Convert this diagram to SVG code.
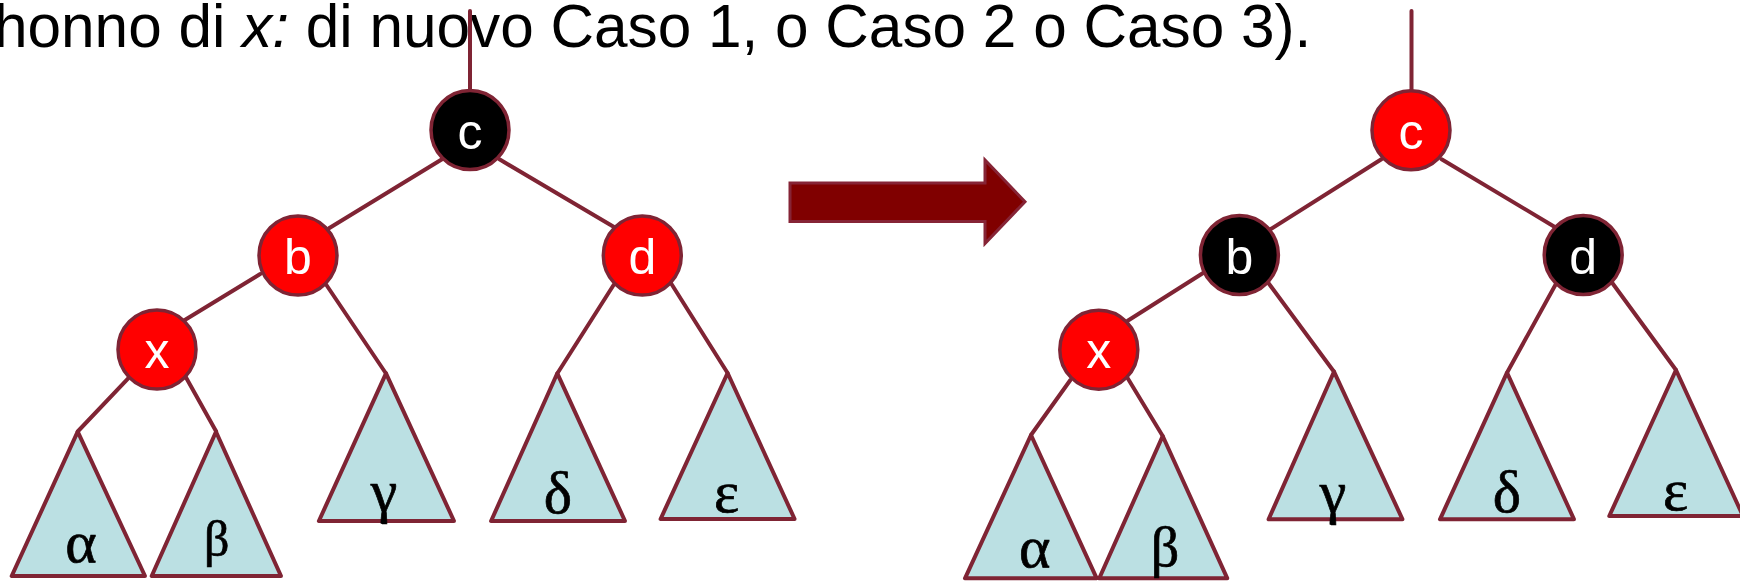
<svg xmlns="http://www.w3.org/2000/svg" width="1740" height="581" viewBox="0 0 1740 581">
<style>
.ln{stroke:#7F2434;stroke-width:4;fill:none;stroke-linecap:round}
.tri{fill:#BBE0E3;stroke:#7F2434;stroke-width:4;stroke-linejoin:round}
.nd{stroke:#7F2434;stroke-width:3.5}
.red{fill:#FF0000}
.blk{fill:#000000}
.nl{font-family:"Liberation Sans",Arial,sans-serif;font-size:50px;fill:#FFFFFF;text-anchor:middle}
.gl{font-family:"Liberation Serif","Times New Roman",serif;font-size:60px;fill:#000000;stroke:#000000;stroke-width:0.7;text-anchor:middle}
.title{font-family:"Liberation Sans",Arial,sans-serif;font-size:60.3px;fill:#000000}
</style>
<rect width="1740" height="581" fill="#FFFFFF"/>
<text class="title" x="-6" y="47">honno di <tspan font-style="italic">x:</tspan> di nuovo Caso 1, o Caso 2 o Caso 3).</text>

<g id="connectors">
  <line class="ln" x1="470" y1="11" x2="470" y2="92"/>
  <line class="ln" x1="442" y1="159.3" x2="329" y2="228.3"/>
  <line class="ln" x1="499.4" y1="159.3" x2="613.6" y2="226.7"/>
  <line class="ln" x1="260.2" y1="274" x2="184.8" y2="320"/>
  <line class="ln" x1="326.4" y1="285" x2="386" y2="373.5"/>
  <line class="ln" x1="128.2" y1="378.3" x2="77.7" y2="431.5"/>
  <line class="ln" x1="185.6" y1="376.7" x2="216.2" y2="431.5"/>
  <line class="ln" x1="613.6" y1="285" x2="557.3" y2="373.5"/>
  <line class="ln" x1="671" y1="283.3" x2="727.6" y2="373"/>

  <line class="ln" x1="1411.5" y1="11" x2="1411.5" y2="92"/>
  <line class="ln" x1="1381.4" y1="159.3" x2="1270.4" y2="229.3"/>
  <line class="ln" x1="1441.6" y1="159.3" x2="1554.4" y2="226.7"/>
  <line class="ln" x1="1202.7" y1="273.3" x2="1127.7" y2="320.7"/>
  <line class="ln" x1="1268.6" y1="283.3" x2="1334" y2="371.7"/>
  <line class="ln" x1="1556.3" y1="283.3" x2="1507" y2="372.7"/>
  <line class="ln" x1="1612.5" y1="283.3" x2="1676" y2="370"/>
  <line class="ln" x1="1070.4" y1="380" x2="1031" y2="435"/>
  <line class="ln" x1="1127.7" y1="378.3" x2="1162.7" y2="436"/>
</g>

<g id="arrow">
  <path d="M790,183 L985,183 L985,160 L1025,201.7 L985,243.5 L985,221.5 L790,221.5 Z" fill="#800000" stroke="#862436" stroke-width="3"/>
</g>

<g id="L-alpha"><polygon class="tri" points="77.7,431.7 11.7,576 145,576"/><text class="gl" x="81" y="561.7">α</text></g>
<g id="L-beta"><polygon class="tri" points="216,431.7 151.7,576 281,576"/><text class="gl" x="216.7" y="556" style="font-size:50px">β</text></g>
<g id="L-gamma"><polygon class="tri" points="386,373.3 318.9,521 454,521"/><text class="gl" x="384" y="511">γ</text></g>
<g id="L-delta"><polygon class="tri" points="557.3,373.3 491.1,521 625,521"/><text class="gl" x="558" y="513">δ</text></g>
<g id="L-epsilon"><polygon class="tri" points="727.6,373 660.6,519 794.6,519"/><text class="gl" x="726.5" y="511.7">ε</text></g>

<g id="L-c"><ellipse class="nd blk" cx="470" cy="130" rx="39" ry="39.5"/><text class="nl" x="470" y="148.5">c</text></g>
<g id="L-b"><ellipse class="nd red" cx="298" cy="255.5" rx="39" ry="39.5"/><text class="nl" x="298" y="274">b</text></g>
<g id="L-d"><ellipse class="nd red" cx="642.3" cy="255.5" rx="39" ry="39.5"/><text class="nl" x="642.3" y="274">d</text></g>
<g id="L-x"><ellipse class="nd red" cx="157" cy="349.5" rx="39" ry="39.5"/><text class="nl" x="157" y="368">x</text></g>

<g id="R-alpha"><polygon class="tri" points="1031,435 965,578.3 1096.7,578.3"/><text class="gl" x="1034.7" y="566.7">α</text></g>
<g id="R-beta"><polygon class="tri" points="1162.7,436 1099.3,578.3 1227.3,578.3"/><text class="gl" x="1165" y="566" style="font-size:56px">β</text></g>
<g id="R-gamma"><polygon class="tri" points="1334,371.7 1268.6,519.3 1402.5,519.3"/><text class="gl" x="1333" y="512">γ</text></g>
<g id="R-delta"><polygon class="tri" points="1507,372.7 1440,519.3 1574,519.3"/><text class="gl" x="1507" y="511.7">δ</text></g>
<g id="R-epsilon"><polygon class="tri" points="1676,370 1609.3,516 1743,516"/><text class="gl" x="1675.5" y="510">ε</text></g>

<g id="R-c"><ellipse class="nd red" cx="1411" cy="130.3" rx="39" ry="39.5"/><text class="nl" x="1411" y="148.8">c</text></g>
<g id="R-b"><ellipse class="nd blk" cx="1239.4" cy="255" rx="39" ry="39.5"/><text class="nl" x="1239.4" y="273.5">b</text></g>
<g id="R-d"><ellipse class="nd blk" cx="1583.2" cy="255" rx="39" ry="39.5"/><text class="nl" x="1583.2" y="273.5">d</text></g>
<g id="R-x"><ellipse class="nd red" cx="1098.8" cy="349.7" rx="39" ry="39.5"/><text class="nl" x="1098.8" y="368.2">x</text></g>
</svg>
